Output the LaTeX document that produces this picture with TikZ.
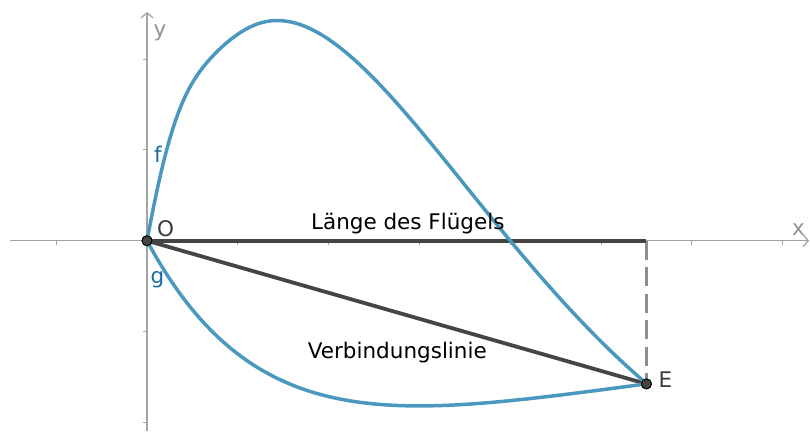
\documentclass[tikz,border=0pt]{standalone}
\usepackage{fontspec}
\setmainfont{DejaVu Sans}
\usetikzlibrary{arrows.meta}
\definecolor{curveblue}{HTML}{4A98BE}
\definecolor{labelblue}{HTML}{1C6BA3}
\definecolor{axisgray}{HTML}{A3A3A3}
\definecolor{darkline}{HTML}{454545}
\definecolor{dashgray}{HTML}{8E8E8E}
\definecolor{txtgray}{HTML}{3A3A3A}
\begin{document}
\begin{tikzpicture}[x=1pt,y=-1pt,
  axis/.style={draw=axisgray,line width=1.3pt},
  tickmark/.style={draw=axisgray,line width=1pt},
  curve/.style={draw=curveblue,line width=3.5pt,line join=round},
  segment/.style={draw=darkline,line width=3.8pt},
  dropline/.style={draw=dashgray,line width=3.6pt,dash pattern=on 19pt off 7.5pt},
  pointdot/.style={circle,fill=darkline,draw=black,line width=0.9pt,minimum size=10pt,inner sep=0pt},
  lbl/.style={inner sep=0pt,font=\fontsize{21.5}{24}\selectfont},
  ]
\useasboundingbox (0,0) rectangle (810,431);
% axes
\coordinate (xl) at (10,240.7);
\coordinate (xr) at (809,240.7);
\coordinate (yb) at (147,431);
\coordinate (yt) at (147,12);
\draw[axis,-{Straight Barb[length=5pt,width=12pt]}] (xl) -- (xr);
\draw[axis,-{Straight Barb[length=5pt,width=12pt]}] (yb) -- (yt);
% ticks
\foreach \k in {-1,1,2,3,4,5,6,7}{
  \draw[tickmark] ({147+90.8*\k},240.7) -- ({147+90.8*\k},244.5);
}
\foreach \k in {-2,-1,1,2}{
  \draw[tickmark] (143,{240.7-90.8*\k}) -- (147,{240.7-90.8*\k});
}
% points
\coordinate (Lend) at (646.4,240.7);
\node[pointdot] (O) at (147,240.7) {};
\node[pointdot] (E) at (646.4,383.9) {};
% lines
\draw[dropline] (Lend) -- (E.center);
\draw[segment] (O.center) -- (Lend);
\draw[segment] (O.center) -- (E.center);
% curves f and g
\draw[curve] plot[domain=0:5.5,samples=160,smooth]
  ({147+90.8*\x},{240.7-90.8*\x*(4-\x)*(exp(0.02-0.305*\x)+0.32*exp(-4*\x*\x))});
\draw[curve] plot[domain=0:5.5,samples=120,smooth]
  ({147+90.8*\x},{240.7+90.8*\x*exp(0.6224-0.4149*\x+0.01357*\x*\x)});
% dots on top
\node[pointdot] at (O.center) {};
\node[pointdot] at (E.center) {};
% labels
\node[lbl,anchor=base,text=black] (laenge) at (407.8,229.3) {Länge des Flügels};
\node[lbl,anchor=base,text=black] (verb) at (397.3,358.3) {Verbindungslinie};
\node[lbl,anchor=base west,text=txtgray] (Olbl) at (157,236) {O};
\node[lbl,anchor=base west,text=txtgray] (Elbl) at (658.5,387.3) {E};
\node[lbl,anchor=base west,text=labelblue] (flbl) at (154,162.7) {f};
\node[lbl,anchor=base west,text=labelblue] (glbl) at (150.5,283.5) {g};
\node[lbl,anchor=base west,text=axisgray!90!black] (ylbl) at (153.5,36.8) {y};
\node[lbl,anchor=base west,text=axisgray!90!black] (xlbl) at (792,235) {x};
\end{tikzpicture}
\end{document}
